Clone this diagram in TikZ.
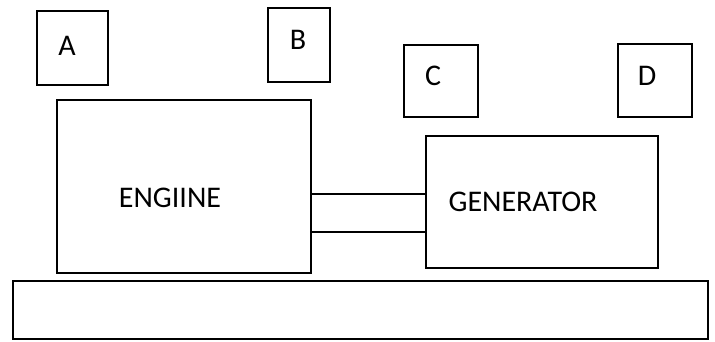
\documentclass[tikz,border=0pt]{standalone}
\usepackage{fontspec}
\setmainfont{Carlito}
\begin{document}
\begin{tikzpicture}[x=1pt,y=-1pt,
  box/.style={draw,line width=1.3pt,inner sep=0pt},
  lbl/.style={font=\fontsize{30}{32}\selectfont,inner sep=0pt}]
\useasboundingbox (0,0) rectangle (715,341);
% small boxes
\node[box,minimum width=71pt,minimum height=74pt] (A) at (72.5,48) {};
\node[lbl] (tA) at (67,46) {A};
\node[box,minimum width=62pt,minimum height=74pt] (B) at (299,45) {};
\node[lbl] (tB) at (298,40) {B};
\node[box,minimum width=74pt,minimum height=72pt] (C) at (441,81) {};
\node[lbl] (tC) at (433,76) {C};
\node[box,minimum width=74pt,minimum height=73pt] (D) at (655,80.5) {};
\node[lbl] (tD) at (647,76) {D};
% engine & generator
\node[box,minimum width=254pt,minimum height=173pt] (E) at (184,186.5) {};
\node[lbl] (tE) at (170,198) {ENGIINE};
\node[box,minimum width=232pt,minimum height=132pt] (G) at (542,202) {};
\node[lbl] (tG) at (523,202) {GENERATOR};
% shaft
\draw[line width=1.3pt] (E.east |- 0,194) -- (G.west |- 0,194);
\draw[line width=1.3pt] (E.east |- 0,232) -- (G.west |- 0,232);
% base
\node[box,minimum width=695pt,minimum height=58pt] (base) at (360.5,310) {};
\end{tikzpicture}
\end{document}
